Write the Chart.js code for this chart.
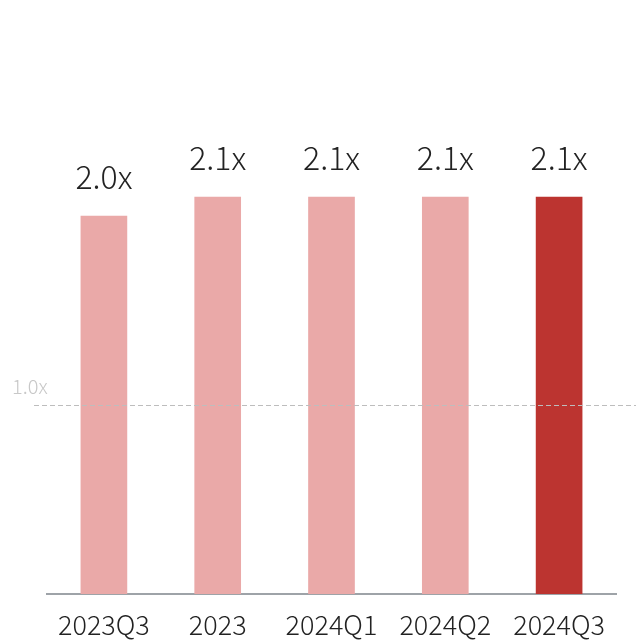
<!DOCTYPE html>
<html>
<head>
<meta charset="utf-8">
<script src="https://cdn.jsdelivr.net/npm/chart.js@4/dist/chart.umd.min.js"></script>
<style>
  html, body { margin: 0; padding: 0; background: #fff; }
  #wrap { width: 636px; height: 643px; position: relative; }
</style>
</head>
<body>
<div id="wrap"><canvas id="c"></canvas></div>
<script>
// Coverage ratio by period
const categories = ['2023Q3', '2023', '2024Q1', '2024Q2', '2024Q3'];
const ratios = [2.0, 2.1, 2.1, 2.1, 2.1];
const referenceLevel = 1.0;

const FONT = '"Noto Sans CJK JP", "Noto Sans", sans-serif';
const barColors = categories.map((c, i) => i === categories.length - 1 ? '#BC3430' : '#EAA9A8');

const fmt = v => v.toFixed(1) + 'x';

const annotations = {
  id: 'annotations',
  afterDatasetsDraw(chart) {
    const { ctx, chartArea, scales } = chart;
    const y = scales.y;
    // dashed reference line
    const ry = Math.round(y.getPixelForValue(referenceLevel)) + 0.5;
    ctx.save();
    ctx.strokeStyle = '#BDBDBD';
    ctx.lineWidth = 1;
    ctx.setLineDash([5, 3]);
    ctx.beginPath();
    ctx.moveTo(chartArea.left - 13, ry);
    ctx.lineTo(chart.width, ry);
    ctx.stroke();
    ctx.setLineDash([]);
    ctx.fillStyle = '#C8C8C8';
    ctx.font = '300 20px ' + FONT;
    ctx.textAlign = 'left';
    ctx.textBaseline = 'alphabetic';
    ctx.fillText(fmt(referenceLevel), 12, ry - 12);

    // value labels above bars
    const meta = chart.getDatasetMeta(0);
    ctx.fillStyle = '#222';
    ctx.font = '300 32px ' + FONT;
    ctx.textAlign = 'center';
    meta.data.forEach((bar, i) => {
      ctx.fillText(fmt(ratios[i]), bar.x, bar.y - 27);
    });
    ctx.restore();
  }
};

new Chart(document.getElementById('c'), {
  type: 'bar',
  data: {
    labels: categories,
    datasets: [{
      data: ratios,
      backgroundColor: barColors,
      borderWidth: 0,
      barThickness: 46
    }]
  },
  options: {
    responsive: true,
    maintainAspectRatio: false,
    animation: false,
    layout: { padding: { left: 47, right: 20, top: 27, bottom: 0 } },
    plugins: { legend: { display: false }, tooltip: { enabled: false } },
    scales: {
      x: {
        afterFit: (scale) => { scale.height = 49; },
        grid: { display: false, drawTicks: false },
        border: { display: true, color: '#9EA3A8', width: 2 },
        ticks: {
          color: '#222',
          padding: 15,
          font: { family: FONT, size: 27, weight: 300 }
        }
      },
      y: {
        display: false,
        min: 0,
        max: 3
      }
    }
  },
  plugins: [annotations]
});
</script>
</body>
</html>
